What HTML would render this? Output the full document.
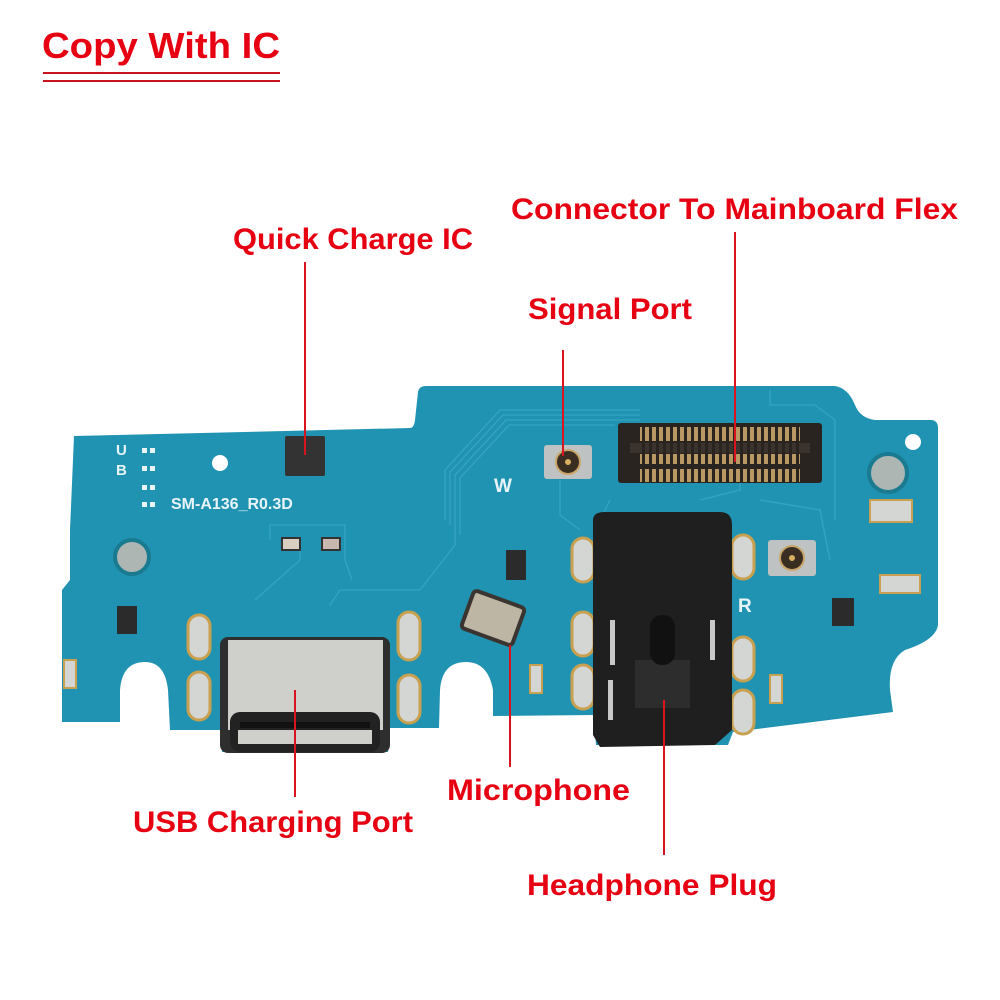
<!DOCTYPE html>
<html><head><meta charset="utf-8"><style>
html,body{margin:0;padding:0;background:#fff;}
svg{display:block}
text{font-family:"Liberation Sans",sans-serif;font-weight:bold;}
</style></head><body>
<svg width="1000" height="1000" viewBox="0 0 1000 1000" xmlns="http://www.w3.org/2000/svg">
<rect width="1000" height="1000" fill="#fff"/>
<!-- title -->
<text x="42" y="58" font-size="36" fill="#e60012" textLength="238" lengthAdjust="spacingAndGlyphs">Copy With IC</text>
<rect x="43" y="72" width="237" height="2" fill="#c8141e"/>
<rect x="43" y="80" width="237" height="2" fill="#c8141e"/>

<!-- board -->
<path d="M74,436 L410,428 Q414,428 415,420 L418,392 Q419,386 426,386 L835,386 Q848,388 855,405 Q860,418 875,420 L932,420 Q938,421 938,428 L938,625 Q936,640 905,650 Q888,660 890,690 L893,712 L733,732 L728,745 L596,745 L594,715 L493,716 L493,690 Q488,662 466,662 Q442,662 440,690 L439,728 L390,728 L388,752 L222,752 L222,730 L170,730 L168,690 Q165,662 145,662 Q122,662 120,690 L120,722 L62,722 L62,590 L70,580 L70,530 Z" fill="#2193b2"/>
<!-- traces -->
<g fill="none" stroke="#3aa8c6" stroke-width="1.3" opacity="0.8">
<path d="M445,520 L445,470 L500,410 L640,410"/><path d="M450,525 L450,472 L503,415 L640,415"/><path d="M455,530 L455,475 L506,420 L640,420"/>
<path d="M460,535 L460,478 L509,425 L615,425"/><path d="M270,540 L270,525 L345,525 L345,560 L352,580"/>
<path d="M255,600 L300,560 L300,545"/><path d="M330,605 L340,590 L420,590 L455,545 L455,530"/>
<path d="M580,530 L560,515 L560,480"/><path d="M700,500 L740,490 L740,480"/><path d="M760,500 L820,510 L830,560"/>
<path d="M610,500 L600,520"/><path d="M770,390 L770,405 L815,405 L835,420 L835,520"/>
</g>
<!-- holes -->
<circle cx="132" cy="557" r="17" fill="#aeb6b4" stroke="#1a7a90" stroke-width="4"/>
<circle cx="888" cy="473" r="19" fill="#aeb6b4" stroke="#1a7a90" stroke-width="4"/>
<circle cx="913" cy="442" r="8" fill="#fff"/>
<circle cx="220" cy="463" r="8" fill="#fff"/>
<!-- silkscreen -->
<text x="116" y="455" font-size="15" fill="#e8f4f7" font-weight="normal">U</text>
<text x="116" y="475" font-size="15" fill="#e8f4f7" font-weight="normal">B</text>
<text x="171" y="509" font-size="16" fill="#e8f4f7" font-weight="normal">SM-A136_R0.3D</text>
<text x="494" y="492" font-size="19" fill="#e8f4f7" font-weight="normal">W</text>
<text x="738" y="612" font-size="19" fill="#e8f4f7" font-weight="normal">R</text>
<g fill="#e8f4f7"><rect x="142" y="448" width="5" height="5"/><rect x="150" y="448" width="5" height="5"/><rect x="142" y="466" width="5" height="5"/><rect x="150" y="466" width="5" height="5"/><rect x="142" y="485" width="5" height="5"/><rect x="150" y="485" width="5" height="5"/><rect x="142" y="502" width="5" height="5"/><rect x="150" y="502" width="5" height="5"/></g>
<!-- IC -->
<rect x="285" y="436" width="40" height="40" fill="#333" rx="2"/>
<rect x="506" y="550" width="20" height="30" fill="#2b2b2b"/>
<rect x="117" y="606" width="20" height="28" fill="#2b2b2b"/>
<rect x="832" y="598" width="22" height="28" fill="#2b2b2b"/>
<rect x="282" y="538" width="18" height="12" fill="#d8cfc0" stroke="#333" stroke-width="2"/>
<rect x="322" y="538" width="18" height="12" fill="#c9b8b0" stroke="#333" stroke-width="2"/>
<!-- connector -->
<rect x="618" y="423" width="204" height="60" fill="#2a2420" rx="3"/>
<rect x="630" y="443" width="180" height="10" fill="#3a332e"/>
<g fill="#c9a56a">
<rect x="640" y="427" width="160" height="14" opacity="0.9"/>
<rect x="640" y="454" width="160" height="10" opacity="0.9"/>
<rect x="640" y="469" width="160" height="13" opacity="0.9"/>
</g>
<g stroke="#2a2420" stroke-width="3">
<path d="M643.5,427V482M650.5,427V482M657.5,427V482M664.5,427V482M671.5,427V482M678.5,427V482M685.5,427V482M692.5,427V482M699.5,427V482M706.5,427V482M713.5,427V482M720.5,427V482M727.5,427V482M734.5,427V482M741.5,427V482M748.5,427V482M755.5,427V482M762.5,427V482M769.5,427V482M776.5,427V482M783.5,427V482M790.5,427V482M797.5,427V482"/>
</g>
<!-- signal ports -->
<rect x="544" y="445" width="48" height="34" fill="#bfc2c2" rx="3"/><circle cx="568" cy="462" r="12" fill="#3a2e22" stroke="#c9a56a" stroke-width="2"/><circle cx="568" cy="462" r="3" fill="#d8b060"/>
<rect x="768" y="540" width="48" height="36" fill="#bfc2c2" rx="3"/><circle cx="792" cy="558" r="12" fill="#3a2e22" stroke="#c9a56a" stroke-width="2"/><circle cx="792" cy="558" r="3" fill="#d8b060"/>
<!-- mic -->
<rect x="466" y="598" width="54" height="40" fill="#bdb6a4" stroke="#3a3530" stroke-width="4" rx="4" transform="rotate(20 493 618)"/>
<!-- USB port -->
<rect x="220" y="637" width="170" height="116" fill="#2e2e2e" rx="8"/>
<rect x="228" y="640" width="155" height="90" fill="#cfcfcc"/>
<rect x="230" y="712" width="150" height="40" fill="#222" rx="10"/>
<rect x="238" y="730" width="134" height="14" fill="#cfcfcc"/>
<rect x="240" y="722" width="130" height="6" fill="#111"/>
<!-- pads -->
<g fill="#d4d6d4" stroke="#c8a050" stroke-width="3">
<rect x="188" y="615" width="22" height="44" rx="11"/><rect x="188" y="672" width="22" height="48" rx="11"/>
<rect x="398" y="612" width="22" height="48" rx="11"/><rect x="398" y="675" width="22" height="48" rx="11"/>
<rect x="572" y="538" width="22" height="44" rx="11"/><rect x="572" y="612" width="22" height="44" rx="11"/><rect x="572" y="665" width="22" height="44" rx="11"/>
<rect x="732" y="535" width="22" height="44" rx="11"/><rect x="732" y="637" width="22" height="44" rx="11"/><rect x="732" y="690" width="22" height="44" rx="11"/>
</g>
<g fill="#d4d6d4" stroke="#c8a050" stroke-width="2"><rect x="530" y="665" width="12" height="28"/><rect x="770" y="675" width="12" height="28"/><rect x="64" y="660" width="12" height="28"/><rect x="870" y="500" width="42" height="22"/><rect x="880" y="575" width="40" height="18"/></g>
<!-- jack -->
<path d="M593,520 Q593,512 605,512 L720,512 Q732,512 732,525 L732,730 L715,745 L600,747 L593,735 Z" fill="#1f1f1f"/>
<rect x="635" y="660" width="55" height="48" fill="#2d2d2d"/>
<rect x="650" y="615" width="25" height="50" rx="12" fill="#111"/>
<rect x="610" y="620" width="5" height="45" fill="#c8c8c8"/><rect x="608" y="680" width="5" height="40" fill="#c8c8c8"/><rect x="710" y="620" width="5" height="40" fill="#c8c8c8"/>

<!-- leader lines -->
<g stroke="#d9141e" stroke-width="2">
<line x1="305" y1="262" x2="305" y2="455"/>
<line x1="735" y1="232" x2="735" y2="462"/>
<line x1="563" y1="350" x2="563" y2="456"/>
<line x1="510" y1="645" x2="510" y2="767"/>
<line x1="295" y1="690" x2="295" y2="797"/>
<line x1="664" y1="700" x2="664" y2="855"/>
</g>
<!-- labels -->
<g fill="#e60012" font-size="30">
<text x="233" y="249" textLength="240" lengthAdjust="spacingAndGlyphs">Quick Charge IC</text>
<text x="511" y="219" textLength="447" lengthAdjust="spacingAndGlyphs">Connector To Mainboard Flex</text>
<text x="528" y="319" textLength="164" lengthAdjust="spacingAndGlyphs">Signal Port</text>
<text x="447" y="800" textLength="183" lengthAdjust="spacingAndGlyphs">Microphone</text>
<text x="133" y="832" textLength="280" lengthAdjust="spacingAndGlyphs">USB Charging Port</text>
<text x="527" y="895" textLength="250" lengthAdjust="spacingAndGlyphs">Headphone Plug</text>
</g>
</svg>
</body></html>
